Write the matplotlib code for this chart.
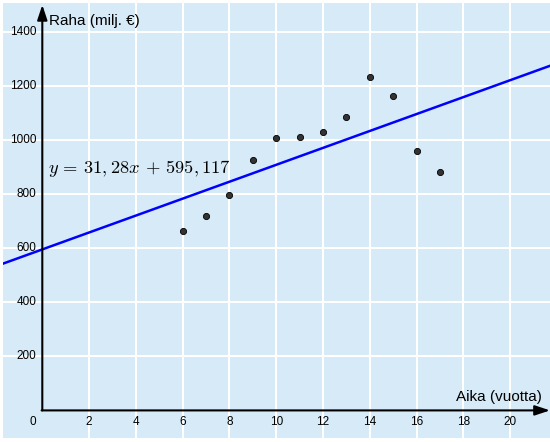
import matplotlib
matplotlib.use('Agg')
import matplotlib.pyplot as plt
import numpy as np

plt.rcParams['font.family'] = ['Liberation Sans', 'DejaVu Sans']
plt.rcParams['mathtext.fontset'] = 'cm'

# data
years = [6, 7, 8, 9, 10, 11, 12, 13, 14, 15, 16, 17]
money = [663, 718, 795, 927, 1007, 1012, 1028, 1084, 1233, 1161, 960, 881]
slope = 31.28
intercept = 595.117
xticks = [0, 2, 4, 6, 8, 10, 12, 14, 16, 18, 20]
yticks = [200, 400, 600, 800, 1000, 1200, 1400]

bg = '#d6ebf7'
xmin, xmax = -1.68, 21.7
ymin, ymax = -102, 1506

fig = plt.figure(figsize=(5.5, 4.42), dpi=100)
ax = fig.add_axes([3 / 550, 4 / 442, 547 / 550, 435 / 442])
ax.set_facecolor(bg)
ax.set_xlim(xmin, xmax)
ax.set_ylim(ymin, ymax)
for s in ax.spines.values():
    s.set_visible(False)
ax.set_xticks([])
ax.set_yticks([])

# white grid
for x in xticks[1:]:
    ax.axvline(x, color='white', lw=1.5, zorder=1)
for y in yticks:
    ax.axhline(y, color='white', lw=1.5, zorder=1)

# axes with arrows
ax.annotate('', xy=(0, 1499), xytext=(0, 0),
            arrowprops=dict(arrowstyle='-|>,head_length=0.9,head_width=0.3', color='black', lw=1.5,
                            shrinkA=0, shrinkB=0), zorder=3)
ax.annotate('', xy=(xmax, 0), xytext=(-0.03, 0),
            arrowprops=dict(arrowstyle='-|>,head_length=0.9,head_width=0.3', color='black', lw=1.5,
                            shrinkA=0, shrinkB=0), zorder=3)

# tick labels
for x in xticks:
    xp = -0.42 if x == 0 else x
    ax.text(xp, -42, str(x), ha='center', va='center', fontsize=8.5, zorder=4)
for y in yticks:
    ax.text(-0.25, y, str(y), ha='right', va='center', fontsize=8.5, zorder=4)

ax.text(0.28, 1438, 'Raha (milj. €)', ha='left', va='center', fontsize=11, zorder=4)
ax.text(17.7, 25, 'Aika (vuotta)', ha='left', va='bottom', fontsize=11, zorder=4)

# regression line
xx = np.array([xmin, xmax])
ax.plot(xx, slope * xx + intercept, color='#0000ff', lw=1.8, zorder=2)

ax.scatter(years, money, s=20, color='#333333', edgecolor='black', linewidth=0.6, zorder=5)

ax.text(0.25, 893, r'$y\,=\,31,28x\,+\,595,117$', ha='left', va='center', fontsize=13.3, zorder=4)

fig.savefig('out.png', dpi=100, facecolor='white')
